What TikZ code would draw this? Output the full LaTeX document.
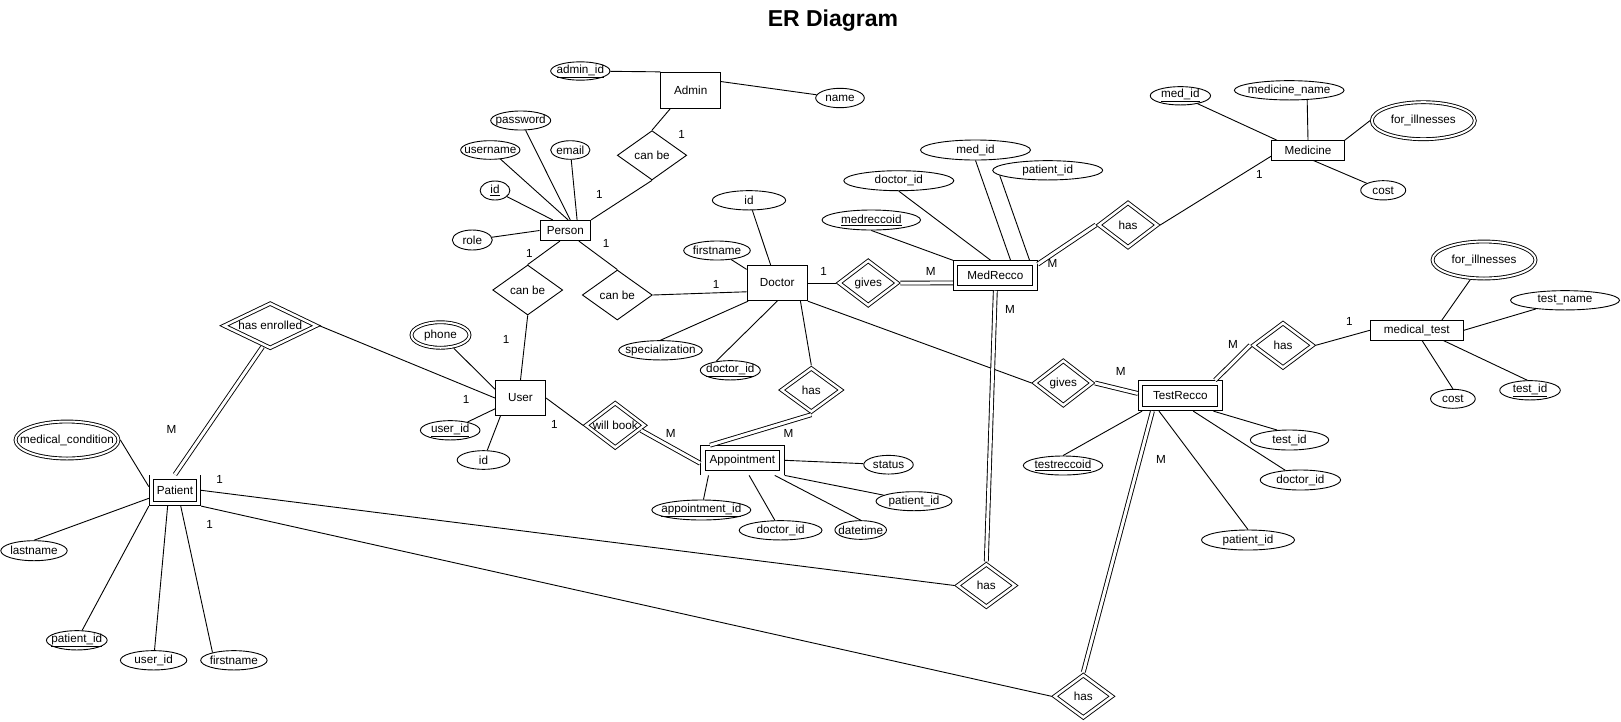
\documentclass[tikz,border=0pt]{standalone}
\usepackage{fontspec}
\setmainfont{Liberation Sans}
\usetikzlibrary{shapes.geometric}

\tikzset{
  slim/.style={execute at begin node={\hbox to 0pt\bgroup\hss},
               execute at end node={\hss\egroup}},
  entity/.style={draw, rectangle},
  weak/.style={draw, rectangle, double, double distance=3.6pt, outer sep=2.7pt},
  attr/.style={draw, ellipse, slim},
  multi/.style={draw, ellipse, slim, double, double distance=2pt, outer sep=1.9pt},
  rel/.style={draw, diamond, slim, aspect=1.3},
  idrel/.style={rel, double, double distance=2.5pt, outer sep=2.2pt},
  total/.style={double, double distance=3pt}
}

\begin{document}
\begin{tikzpicture}[
    x=1pt, y=-1pt,
    line width=0.9pt,
    every node/.style={font=\fontsize{11.7}{14}\selectfont, inner sep=0pt}
  ]
  \fill[white] (0,0) rectangle (1621,721);
  \useasboundingbox (0,0) rectangle (1621,721);

  \node[font=\fontsize{23}{26}\selectfont\bfseries] (title) at (833,20.7) {ER Diagram};

  % entities
  \node[entity, minimum width=60, minimum height=36] (Admin) at (690.7,90.3) {Admin};
  \node[entity, minimum width=50.7, minimum height=20.3] (Person) at (565.3,230.5) {Person};
  \node[entity, minimum width=60.3, minimum height=35.4] (Doctor) at (777.2,283) {Doctor};
  \node[entity, minimum width=50.2, minimum height=35.3] (User) at (520.5,398) {User};
  \node[entity, minimum width=72.6, minimum height=19.3] (Medicine) at (1308,150.3) {Medicine};
  \node[entity, minimum width=93.1, minimum height=19.3] (mt) at (1416.8,330.3) {medical\_test};
  \node[weak, minimum width=47, minimum height=26.2] (Patient) at (175,490.3) {Patient};
  \node[weak, minimum width=79, minimum height=24.8] (Appointment) at (742.4,460.3) {Appointment};
  \node[weak, minimum width=79.5, minimum height=25.1] (MedRecco) at (995.3,275.5) {MedRecco};
  \node[weak, minimum width=79.5, minimum height=25.5] (TestRecco) at (1180.3,395.7) {TestRecco};

  % relationships
  \node[rel, minimum width=69.4, minimum height=49.3] (cbAdmin) at (652,155.3) {can be};
  \node[rel, minimum width=70, minimum height=50] (cbUser) at (527.7,290) {can be};
  \node[rel, minimum width=70, minimum height=50] (cbDoc) at (617.3,295) {can be};
  \node[idrel, aspect=2, minimum width=94, minimum height=46] (hasEnrolled) at (270.2,325.7) {has enrolled};
  \node[idrel, minimum width=60, minimum height=46] (willbook) at (615.2,425.3) {will book};
  \node[idrel, minimum width=61, minimum height=45] (hasAppt) at (811.3,390) {has};
  \node[idrel, minimum width=60, minimum height=46] (givesMR) at (868.2,283) {gives};
  \node[idrel, minimum width=60, minimum height=46] (hasMed) at (1128,225) {has};
  \node[idrel, minimum width=59, minimum height=46] (givesTR) at (1063.3,383) {gives};
  \node[idrel, minimum width=61, minimum height=46] (hasMT) at (1283,345.3) {has};
  \node[idrel, minimum width=59, minimum height=44] (hasPM) at (986.3,585.5) {has};
  \node[idrel, minimum width=59, minimum height=44] (hasPT) at (1083.3,696.3) {has};

  % attributes
  \node[attr, minimum width=59.3, minimum height=18.3] (adminid) at (580.3,71) {\underline{admin\_id}};
  \node[attr, minimum width=48.6, minimum height=19.4] (aname) at (840,98) {name};
  \node[attr, minimum width=60, minimum height=19] (password) at (520.7,120.5) {password};
  \node[attr, minimum width=59.3, minimum height=18.6] (username) at (490.3,150) {username};
  \node[attr, minimum width=39.3, minimum height=18.6] (email) at (570.3,150) {email};
  \node[attr, minimum width=29.7, minimum height=19] (pid) at (495,190.5) {\underline{id}};
  \node[attr, minimum width=40, minimum height=20] (role) at (472.3,240) {role};
  \node[attr, minimum width=73.3, minimum height=19.3] (did) at (749,200.3) {id};
  \node[attr, minimum width=66.6, minimum height=19] (dfirst) at (717,250.5) {firstname};
  \node[attr, minimum width=83.6, minimum height=19.3] (spec) at (660.5,350.3) {specialization};
  \node[attr, minimum width=60, minimum height=19.3] (ddoc) at (730.3,370.3) {\underline{doctor\_id}};
  \node[multi, minimum width=58, minimum height=25.5] (phone) at (440.5,335) {phone};
  \node[attr, minimum width=59.6, minimum height=19.3] (uuser) at (450.2,430.3) {\underline{user\_id}};
  \node[attr, minimum width=52.6, minimum height=18.7] (uid) at (483.5,460) {id};
  \node[attr, minimum width=99, minimum height=20] (apid) at (701.3,510) {\underline{appointment\_id}};
  \node[attr, minimum width=82.8, minimum height=19.3] (apdoc) at (780.6,530.3) {doctor\_id};
  \node[attr, minimum width=51.6, minimum height=18.7] (apdt) at (860.7,530) {datetime};
  \node[attr, minimum width=49.5, minimum height=18.7] (apstat) at (888.5,464.7) {status};
  \node[attr, minimum width=76, minimum height=19] (appat) at (914,501.2) {patient\_id};
  \node[multi, minimum width=103, minimum height=37] (medcond) at (67,440) {medical\_condition};
  \node[attr, minimum width=66.4, minimum height=20] (lastname) at (34,550.7) {lastname};
  \node[attr, minimum width=60.7, minimum height=19.3] (ppat) at (76.8,640.3) {\underline{patient\_id}};
  \node[attr, minimum width=66.4, minimum height=19.3] (puser) at (153.6,660.3) {user\_id};
  \node[attr, minimum width=66.4, minimum height=19.3] (pfirst) at (233.9,660.3) {firstname};
  \node[attr, minimum width=98.5, minimum height=20] (mrkey) at (871.3,220) {\underline{medreccoid}};
  \node[attr, minimum width=110, minimum height=20] (mrdoc) at (898.8,180.7) {doctor\_id};
  \node[attr, minimum width=110, minimum height=20] (mrmed) at (975.5,150) {med\_id};
  \node[attr, minimum width=110, minimum height=19.3] (mrpat) at (1047.7,170.3) {patient\_id};
  \node[attr, minimum width=60.3, minimum height=18.3] (mdid) at (1180.4,95.8) {\underline{med\_id}};
  \node[attr, minimum width=109.7, minimum height=19.3] (mdname) at (1289.2,90.3) {medicine\_name};
  \node[multi, minimum width=103, minimum height=37] (mdill) at (1423.3,120.7) {for\_illnesses};
  \node[attr, minimum width=45, minimum height=19.3] (mdcost) at (1383.2,190.3) {cost};
  \node[attr, minimum width=79.3, minimum height=19] (trkey) at (1063,465.5) {\underline{testreccoid}};
  \node[attr, minimum width=78.4, minimum height=20] (trtest) at (1289.5,440) {test\_id};
  \node[attr, minimum width=80.4, minimum height=20] (trdoc) at (1300.4,480) {doctor\_id};
  \node[attr, minimum width=93, minimum height=20] (trpat) at (1248,540) {patient\_id};
  \node[multi, minimum width=103, minimum height=37] (mtill) at (1484,260) {for\_illnesses};
  \node[attr, minimum width=109, minimum height=19.3] (mtname) at (1565,300.3) {test\_name};
  \node[attr, minimum width=44.7, minimum height=19] (mtcost) at (1452.9,398.8) {cost};
  \node[attr, minimum width=60.6, minimum height=19.3] (mttid) at (1530,390.3) {\underline{test\_id}};

  % cardinalities
  \foreach \n/\t/\x/\y in {1/1/681.7/134.3, 2/1/599.3/194, 3/1/529.3/253.3, 4/1/606/243.3,
      5/1/716/284, 6/1/823.7/271.7, 7/M/930.8/271.7, 8/M/1052.5/263.3, 9/1/1259.3/174,
      10/M/1010/309, 11/1/506/339.3, 12/1/466/399, 13/1/554.3/424, 14/M/670.8/433.3,
      15/M/788.6/433.3, 16/M/171.4/429, 17/1/219.6/479, 18/1/209.6/524, 19/M/1120.7/371.7,
      20/M/1232.9/344, 21/1/1349.3/321, 22/M/1161/459}
    \node (c\n) at (\x,\y) {\t};

  % Admin, Person
  \draw (adminid) -- (Admin.north west);
  \draw (aname) -- (Admin.16);
  \draw (cbAdmin.north) -- (Admin.222);
  \draw (password) -- (Person.65);
  \draw (username) -- (Person.75);
  \draw (email) -- (Person.42);
  \draw (pid) -- (Person.140);
  \draw (role) -- (Person.west);
  \draw (Person.north east) -- (cbAdmin.south);
  \draw (Person.243) -- (cbUser.north);
  \draw (Person.322) -- (cbDoc.north);
  \draw (cbDoc.east) -- (Doctor.196);
  \draw (cbUser.south) -- (User.north);

  % Doctor
  \draw (did) -- (Doctor.110);
  \draw (dfirst) -- (Doctor.156);
  \draw (spec.north) -- (Doctor.212);
  \draw (ddoc.148) -- (Doctor.south);
  \draw (Doctor.east) -- (givesMR.west);
  \draw (Doctor.322) -- (hasAppt.north);
  \draw (Doctor.south east) -- (givesTR.west);

  % User, Appointment
  \draw (phone) -- (User.161);
  \draw (hasEnrolled.east) -- (User.west);
  \draw (uuser) -- (User.203);
  \draw (uid) -- (User.222);
  \draw (User.east) -- (willbook.west);
  \draw[total] (willbook.349) -- (Appointment.184);
  \draw[total] (hasAppt.south) -- (Appointment.155);
  \draw (Appointment.east) -- (apstat);
  \draw (Appointment.south east) -- (appat);
  \draw (Appointment.204) -- (apid);
  \draw (Appointment.294) -- (apdoc);
  \draw (Appointment.335) -- (apdt.north);

  % MedRecco, Medicine
  \draw[total] (givesMR.east) -- (MedRecco.190);
  \draw (mrkey.south) -- (MedRecco.north west);
  \draw (mrdoc.south) -- (MedRecco.107);
  \draw (mrmed.south) -- (MedRecco.45);
  \draw (mrpat.186) -- (MedRecco.24);
  \draw[total] (MedRecco.15) -- (hasMed.west);
  \draw[total] (MedRecco.south) -- (hasPM.north);
  \draw (hasMed.east) -- (Medicine.189);
  \draw (mdid) -- (Medicine.162);
  \draw (mdname.332) -- (Medicine.north);
  \draw (mdill.west) -- (Medicine.north east);
  \draw (Medicine.297) -- (mdcost);

  % TestRecco, medical_test
  \draw[total] (givesTR.east) -- (TestRecco.177);
  \draw[total] (TestRecco.24) -- (hasMT.west);
  \draw (hasMT.east) -- (mt.west);
  \draw (trkey.north) -- (TestRecco.202);
  \draw[total] (TestRecco.209) -- (hasPT.north);
  \draw (TestRecco.216) -- (trpat.north);
  \draw (TestRecco.310) -- (trdoc);
  \draw (TestRecco.335) -- (trtest.141);
  \draw (mtill) -- (mt.22);
  \draw (mtname) -- (mt.east);
  \draw (mt.297) -- (mtcost.north);
  \draw (mt.339) -- (mttid.105);

  % Patient
  \draw[total] (hasEnrolled.250) -- (Patient.north);
  \draw (medcond.east) -- (Patient.172);
  \draw (lastname.north) -- (Patient.197);
  \draw (ppat) -- (Patient.south west);
  \draw (puser) -- (Patient.245);
  \draw (pfirst.160) -- (Patient.290);
  \draw (Patient.east) -- (hasPM.west);
  \draw (Patient.south east) -- (hasPT.west);
\end{tikzpicture}
\end{document}
